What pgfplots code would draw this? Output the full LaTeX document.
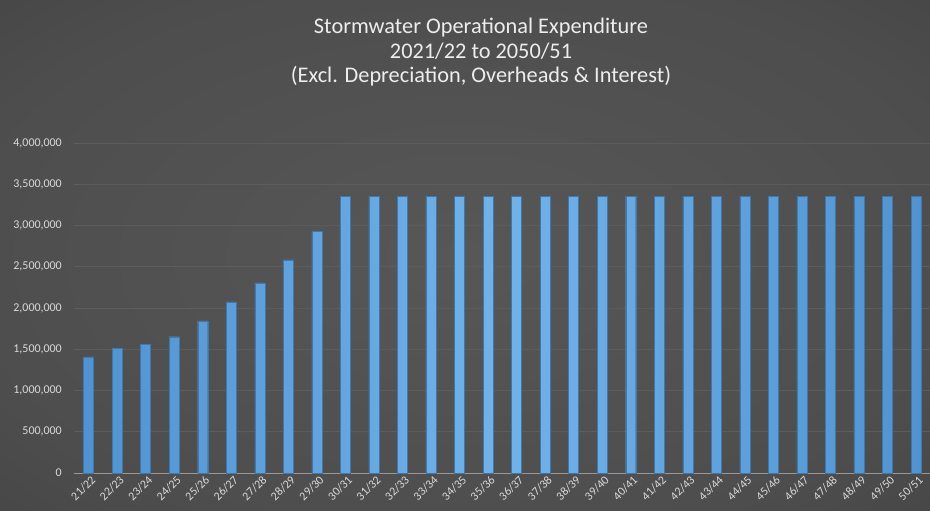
\documentclass[border=0pt]{standalone}
\usepackage{pgfplots}
\pgfplotsset{compat=1.18}
\usepackage{fontspec}
\setmainfont{Carlito}
\definecolor{barL}{HTML}{72B2EA}
\definecolor{barD}{HTML}{5093D0}
\definecolor{barE}{HTML}{3F78AC}
\definecolor{lbl}{HTML}{D9D9D9}
\definecolor{ttl}{HTML}{EDEDED}
\definecolor{gridc}{HTML}{5C5C5C}
\definecolor{bgin}{HTML}{575757}
\definecolor{bgmid}{HTML}{3B3B3B}
\definecolor{bgout}{HTML}{222222}
\pgfdeclareradialshading{bgshade}{\pgfpoint{0bp}{0bp}}{color(0bp)=(bgin); color(28bp)=(bgin!65!bgmid); color(52bp)=(bgmid); color(72bp)=(bgout)}
\pgfplotstableread{
x val
0 1407000
1 1515000
2 1560000
3 1652000
4 1845000
5 2075000
6 2304000
7 2583000
8 2933000
9 3356000
10 3356000
11 3356000
12 3356000
13 3356000
14 3356000
15 3356000
16 3356000
17 3356000
18 3356000
19 3356000
20 3356000
21 3356000
22 3356000
23 3356000
24 3356000
25 3356000
26 3356000
27 3356000
28 3356000
29 3356000
}\datatable
\begin{document}
\begin{tikzpicture}
\path[use as bounding box] (0,0) rectangle (930bp,511bp);
\shade[shading=bgshade] (0,0) rectangle (930bp,511bp);
\begin{axis}[
  at={(74.3bp,38bp)}, anchor=south west,
  scale only axis, width=856bp, height=330bp,
  xmin=-0.5, xmax=29.5, ymin=0, ymax=4000000,
  axis x line=bottom, axis y line=left,
  x axis line style={-, draw=lbl!70!black, line width=0.9pt},
  y axis line style={draw=none},
  major tick length=0pt,
  xmajorgrids=false, ymajorgrids=true,
  y grid style={draw=gridc, line width=0.6pt},
  ytick={0,500000,...,4000000},
  scaled y ticks=false,
  /pgf/number format/.cd, fixed, 1000 sep={,}, assume math mode=true,
  /pgfplots/.cd,
  yticklabel style={font=\fontsize{12}{14}\selectfont, text=lbl, xshift=-9bp},
  xtick={0,...,29},
  xticklabels={21/22,22/23,23/24,24/25,25/26,26/27,27/28,28/29,29/30,30/31,31/32,32/33,33/34,34/35,35/36,36/37,37/38,38/39,39/40,40/41,41/42,42/43,43/44,44/45,45/46,46/47,47/48,48/49,49/50,50/51},
  xticklabel style={font=\fontsize{12}{13}\selectfont, text=lbl, rotate=45, anchor=east, inner sep=0pt, xshift=0bp, yshift=-7bp},
  clip=false,
]
\addplot[ybar, bar width=10bp, draw=barE, line width=0.4pt, left color=barD, right color=barD, middle color=barL] table[x=x, y=val] {\datatable};
\end{axis}
\node[text=ttl, font=\fontsize{22.4}{25}\selectfont, anchor=base, inner sep=0pt] at (481bp,477bp) {Stormwater Operational Expenditure};
\node[text=ttl, font=\fontsize{22.4}{25}\selectfont, anchor=base, inner sep=0pt] at (481bp,452bp) {2021/22 to 2050/51};
\node[text=ttl, font=\fontsize{22.4}{25}\selectfont, anchor=base, inner sep=0pt] at (481bp,428bp) {(Excl. Depreciation, Overheads \& Interest)};
\end{tikzpicture}
\end{document}
